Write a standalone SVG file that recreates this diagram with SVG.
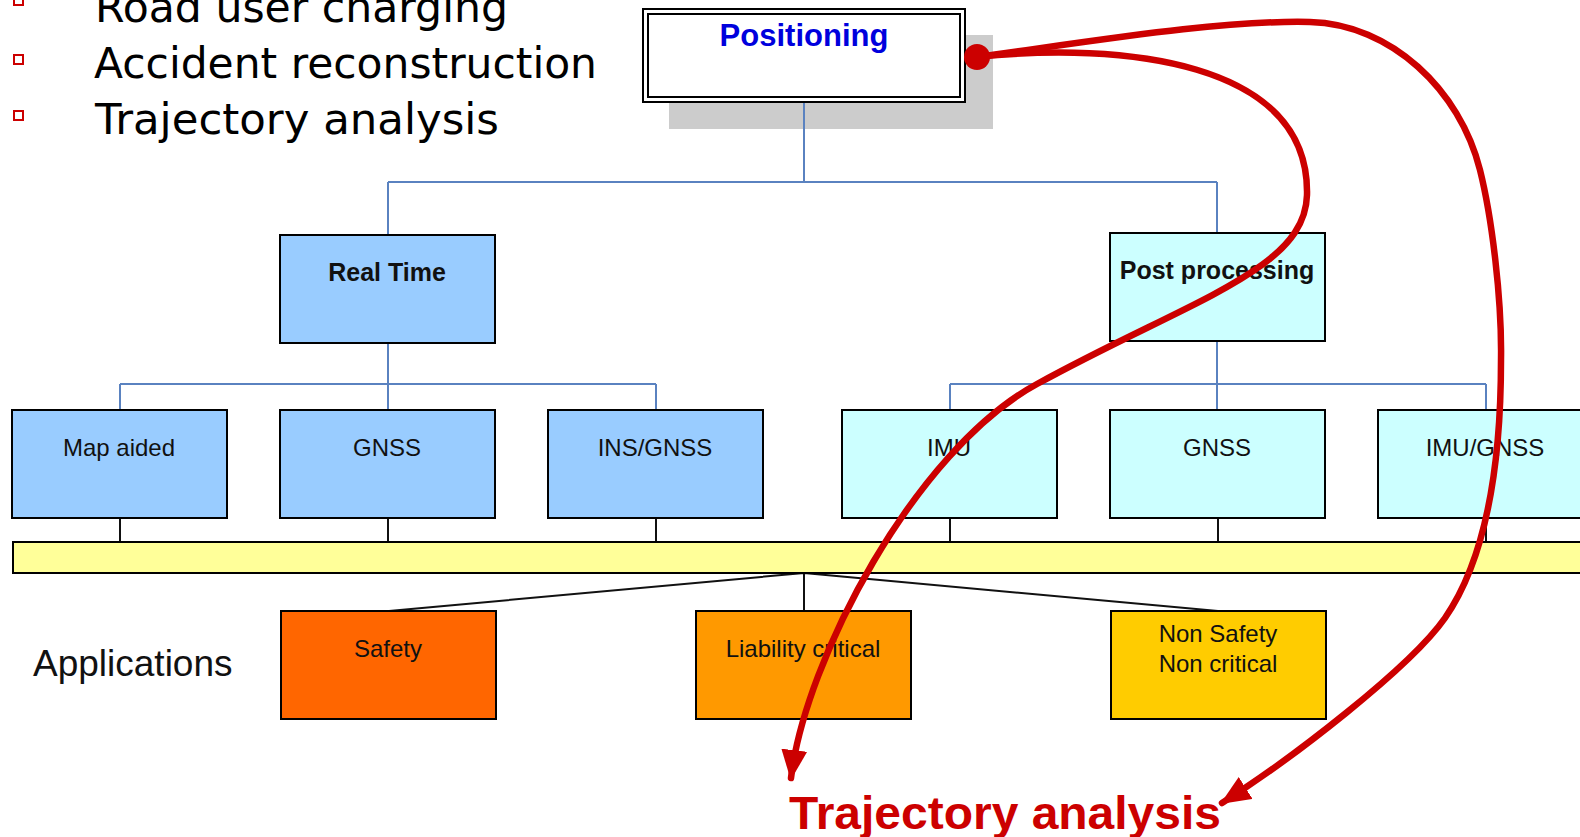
<svg xmlns="http://www.w3.org/2000/svg" width="1580" height="837" viewBox="0 0 1580 837">
  <style>
    .box { stroke: #000; stroke-width: 2; }
    .rt { fill: #99ccff; }
    .pp { fill: #ccffff; }
    .lbl { font-family: "Liberation Sans", Arial, sans-serif; font-size: 24px; fill: #111; text-anchor: middle; }
    .bold { font-weight: bold; font-size: 25px; }
    .tree { fill: none; stroke: #5a82c0; stroke-width: 2; }
    .link { fill: none; stroke: #111; stroke-width: 2; }
    .bullet { fill: #fff; stroke: #cc0000; stroke-width: 2; }
    .btxt { font-family: "DejaVu Sans", Verdana, sans-serif; font-size: 42px; fill: #000; }
    .red { fill: none; stroke: #cc0000; stroke-width: 6.5; stroke-linecap: round; }
  </style>
  <defs>
    <marker id="arrow" markerUnits="userSpaceOnUse" markerWidth="30" markerHeight="26" viewBox="0 0 30 26" refX="28" refY="13" orient="auto">
      <path d="M0,0 L30,13 L0,26 Z" fill="#cc0000"/>
    </marker>
  </defs>
  <rect width="1580" height="837" fill="#fff"/>

  <!-- bullet list -->
  <g id="bullets">
    <rect class="bullet" x="14" y="-4" width="9" height="9"/>
    <rect class="bullet" x="14" y="55" width="9" height="9"/>
    <rect class="bullet" x="14" y="111" width="9" height="9"/>
    <text class="btxt" x="95" y="22" textLength="413" lengthAdjust="spacingAndGlyphs">Road user charging</text>
    <text class="btxt" x="94" y="78" textLength="503" lengthAdjust="spacingAndGlyphs">Accident reconstruction</text>
    <text class="btxt" x="95" y="134" textLength="404" lengthAdjust="spacingAndGlyphs">Trajectory analysis</text>
  </g>

  <!-- root -->
  <g id="positioning">
    <rect x="669" y="35" width="324" height="94" fill="#cccccc"/>
    <rect x="643" y="9" width="322" height="93" fill="#fff" stroke="#000" stroke-width="2"/>
    <rect x="648" y="14" width="312" height="83" fill="none" stroke="#000" stroke-width="2"/>
    <text x="804" y="46" font-family="Liberation Sans, Arial, sans-serif" font-size="31" font-weight="bold" fill="#0000dd" text-anchor="middle">Positioning</text>
  </g>

  <!-- tree connectors -->
  <g id="connectors">
    <path class="tree" d="M804,103 V182 M388,182 H1217 M388,182 V235 M1217,182 V233"/>
    <path class="tree" d="M388,343 V410 M120,384 H656 M120,384 V410 M656,384 V410"/>
    <path class="tree" d="M1217,341 V410 M950,384 H1486 M950,384 V410 M1486,384 V410"/>
    <path class="link" d="M120,518 V542 M388,518 V542 M656,518 V542 M950,518 V542 M1218,518 V542 M1486,518 V542"/>
    <path class="link" d="M804,573 L389,611 M804,573 V611 M804,573 L1218,611"/>
  </g>

  <g id="real-time">
    <rect class="box rt" x="280" y="235" width="215" height="108"/>
    <text class="lbl bold" x="387" y="281">Real Time</text>
  </g>
  <g id="post-processing">
    <rect class="box pp" x="1110" y="233" width="215" height="108"/>
    <text class="lbl bold" x="1217" y="279">Post processing</text>
  </g>

  <g id="map-aided">
    <rect class="box rt" x="12" y="410" width="215" height="108"/>
    <text class="lbl" x="119" y="456">Map aided</text>
  </g>
  <g id="gnss-rt">
    <rect class="box rt" x="280" y="410" width="215" height="108"/>
    <text class="lbl" x="387" y="456">GNSS</text>
  </g>
  <g id="ins-gnss">
    <rect class="box rt" x="548" y="410" width="215" height="108"/>
    <text class="lbl" x="655" y="456">INS/GNSS</text>
  </g>
  <g id="imu">
    <rect class="box pp" x="842" y="410" width="215" height="108"/>
    <text class="lbl" x="949" y="456">IMU</text>
  </g>
  <g id="gnss-pp">
    <rect class="box pp" x="1110" y="410" width="215" height="108"/>
    <text class="lbl" x="1217" y="456">GNSS</text>
  </g>
  <g id="imu-gnss">
    <rect class="box pp" x="1378" y="410" width="215" height="108"/>
    <text class="lbl" x="1485" y="456">IMU/GNSS</text>
  </g>

  <g id="bar">
    <rect class="box" x="13" y="542" width="1580" height="31" fill="#ffff99"/>
  </g>

  <g id="applications-label">
    <text x="33" y="676" font-family="Liberation Sans, Arial, sans-serif" font-size="37" fill="#111">Applications</text>
  </g>
  <g id="safety">
    <rect class="box" x="281" y="611" width="215" height="108" fill="#ff6600"/>
    <text class="lbl" x="388" y="657">Safety</text>
  </g>
  <g id="liability">
    <rect class="box" x="696" y="611" width="215" height="108" fill="#ff9900"/>
    <text class="lbl" x="803" y="657">Liability critical</text>
  </g>
  <g id="non-safety">
    <rect class="box" x="1111" y="611" width="215" height="108" fill="#ffcc00"/>
    <text class="lbl" x="1218" y="642">Non Safety</text>
    <text class="lbl" x="1218" y="672">Non critical</text>
  </g>

  <!-- highlight arrows -->
  <g id="highlight">
    <path class="red" marker-end="url(#arrow)" d="M977,57 C1120,42 1310,60 1307,195 C1305,270 1190,300 1037,384 C915,450 805,660 791,778"/>
    <path class="red" marker-end="url(#arrow)" d="M977,57 C1100,40 1220,20 1310,22 C1391,24 1460,90 1480,170 C1492,218 1502,300 1501,360 C1501,470 1485,560 1445,618 C1410,668 1290,760 1222,803"/>
    <circle cx="977" cy="57" r="13" fill="#cc0000"/>
    <text x="789" y="829" font-family="Liberation Sans, Arial, sans-serif" font-size="47" font-weight="bold" fill="#cc0000" textLength="432" lengthAdjust="spacingAndGlyphs">Trajectory analysis</text>
  </g>
</svg>
